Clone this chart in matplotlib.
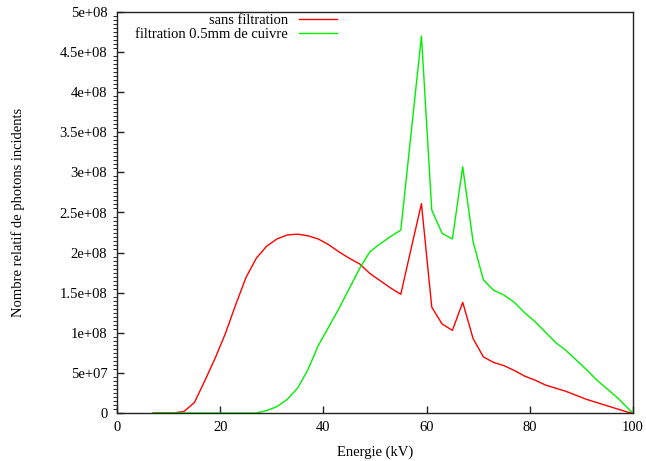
import matplotlib
matplotlib.use("Agg")
import matplotlib.pyplot as plt
from matplotlib.ticker import MultipleLocator, FuncFormatter

plt.rcParams['font.family'] = ['Liberation Serif', 'DejaVu Serif']

# Energies (keV) sampled every 2 keV
energie = [7, 9, 11, 13, 15, 17, 19, 21, 23, 25, 27, 29, 31, 33, 35, 37, 39,
           41, 43, 45, 47, 49, 51, 53, 55, 57, 59, 61, 63, 65, 67, 69, 71,
           73, 75, 77, 79, 81, 83, 85, 87, 89, 91, 93, 95, 97, 99, 100]

# Spectrum without filter (photons)
sans_filtre = [0, 0, 0, 0.02e8, 0.13e8, 0.40e8, 0.68e8, 0.99e8, 1.35e8,
               1.69e8, 1.93e8, 2.08e8, 2.17e8, 2.22e8, 2.23e8, 2.21e8,
               2.17e8, 2.10e8, 2.01e8, 1.93e8, 1.86e8, 1.74e8, 1.65e8,
               1.56e8, 1.48e8, 2.05e8, 2.61e8, 1.32e8, 1.11e8, 1.03e8,
               1.38e8, 0.93e8, 0.70e8, 0.63e8, 0.59e8, 0.53e8, 0.46e8,
               0.41e8, 0.35e8, 0.31e8, 0.27e8, 0.22e8, 0.17e8, 0.13e8,
               0.09e8, 0.05e8, 0.01e8, 0]

# Spectrum with 0.5 mm copper filter
filtre_cuivre = [0, 0, 0, 0, 0, 0, 0, 0, 0, 0, 0, 0.03e8, 0.08e8, 0.17e8,
                 0.31e8, 0.54e8, 0.84e8, 1.07e8, 1.30e8, 1.55e8, 1.80e8,
                 2.01e8, 2.11e8, 2.20e8, 2.28e8, 3.49e8, 4.70e8, 2.53e8,
                 2.24e8, 2.17e8, 3.07e8, 2.14e8, 1.66e8, 1.53e8, 1.47e8,
                 1.38e8, 1.25e8, 1.14e8, 1.01e8, 0.88e8, 0.78e8, 0.66e8,
                 0.54e8, 0.41e8, 0.30e8, 0.19e8, 0.06e8, 0]

fig = plt.figure(figsize=(6.46, 4.61), dpi=100)
ax = fig.add_axes([117/646, 1 - 413/461, 516/646, 401/461])

ax.plot(energie, sans_filtre, color='#ff0000', lw=1, label='sans filtration')
ax.plot(energie, filtre_cuivre, color='#00ee00', lw=1,
        label='filtration 0.5mm de cuivre')

ax.set_xlim(0, 100)
ax.set_ylim(0, 5e8)
ax.xaxis.set_major_locator(MultipleLocator(20))
ax.yaxis.set_major_locator(MultipleLocator(5e7))
ax.yaxis.set_minor_locator(MultipleLocator(5e6))
ax.yaxis.set_major_formatter(FuncFormatter(lambda v, p: f"{v:g}"))
ax.yaxis.get_offset_text().set_visible(False)

ax.tick_params(direction='in', labelsize=10.5, width=1, color='#222222')
ax.tick_params(axis='both', which='major', length=5)
ax.tick_params(axis='y', which='minor', length=3)
ax.tick_params(axis='y', which='major', pad=7)
ax.tick_params(axis='x', which='major', pad=6)
for s in ax.spines.values():
    s.set_color('#222222')
    s.set_linewidth(1)

ax.set_xlabel('Energie (kV)', fontsize=10.5, labelpad=8)
ax.set_ylabel('Nombre relatif de photons incidents', fontsize=10.5, labelpad=25)

ax.legend(loc='upper right', bbox_to_anchor=(0.43, 1.0), frameon=False,
          markerfirst=False, alignment='right', fontsize=10.5,
          handlelength=2.6, handletextpad=0.75, labelspacing=0.05,
          borderpad=0.15, borderaxespad=0)

plt.savefig('out.png')
